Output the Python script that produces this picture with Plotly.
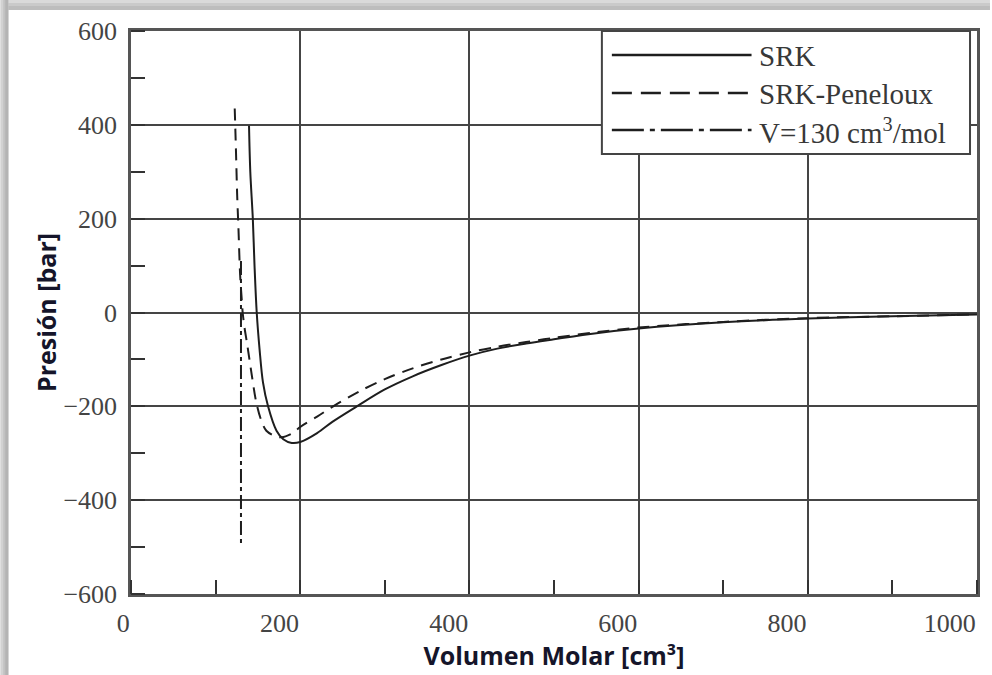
import plotly.graph_objects as go

# ---------------- data ----------------
series_names = ["SRK", "SRK-Peneloux", "V=130 cm<sup>3</sup>/mol"]

srk_v = [139.5, 141, 144, 146, 148.6, 152, 156, 162, 172, 180, 190, 200, 220, 238, 267,
         300, 333, 367, 400, 433, 467, 500, 550, 600, 700, 800, 900, 1000]
srk_p = [398, 300, 200, 100, 0, -79, -149, -200, -252, -270, -278, -276, -257, -233, -200,
         -164, -136, -112, -92, -77, -66, -57, -44, -34, -21, -13, -8, -4]

pen_v = [122.6, 124, 125.5, 127, 129, 131, 132, 134, 137, 140, 143, 148, 154, 160, 170, 178,
         190, 200, 220, 238, 270, 300, 333, 367, 400, 433, 467, 500, 550, 600, 700, 800, 900, 1000]
pen_p = [435, 350, 250, 180, 80, 25, 0, -30, -64, -100, -136, -191, -230, -252, -263, -266,
         -258, -244, -222, -201, -168, -142, -119, -100, -85, -73, -63, -54, -42, -32, -20, -12, -8, -4]

vline_v = [130, 130]
vline_p = [110, -500]

x_ticks = [0, 200, 400, 600, 800, 1000]
y_ticks = [-600, -400, -200, 0, 200, 400, 600]
y_ticktext = ["\u2212600", "\u2212400", "\u2212200", "0", "200", "400", "600"]

# ---------------- figure ----------------
W, H = 992, 675
ML, MR, MT, MB = 131, 13, 31, 81
PW, PH = W - ML - MR, H - MT - MB


def px_x(px):
    return (px - ML) / PW


def px_y(py):
    return (H - MB - py) / PH


line_col = "#1e1e1e"
fig = go.Figure()
fig.add_trace(go.Scatter(x=srk_v, y=srk_p, mode="lines", name=series_names[0],
                         line=dict(color=line_col, width=2, shape="spline", smoothing=0.9)))
fig.add_trace(go.Scatter(x=pen_v, y=pen_p, mode="lines", name=series_names[1],
                         line=dict(color=line_col, width=2, dash="12px,8px",
                                   shape="spline", smoothing=0.9)))
fig.add_trace(go.Scatter(x=vline_v, y=vline_p, mode="lines", name=series_names[2],
                         line=dict(color=line_col, width=2, dash="14px,4px,4px,4px")))

tick_font = dict(family="Liberation Serif, Times New Roman, serif", size=26, color="#444444")
title_font = dict(family="Open Sans, Lato, sans-serif", size=25, color="#15152a")
grid_col = "#454545"

fig.update_xaxes(range=[0, 1000], tickvals=x_ticks, ticks="", showgrid=True,
                 gridcolor=grid_col, gridwidth=1.5, zeroline=False,
                 showline=True, mirror=True, linecolor="#555555", linewidth=2.5,
                 tickfont=tick_font, ticklabelposition="outside left", ticklabelstandoff=4,
                 minor=dict(dtick=100, tick0=0, ticks="inside", ticklen=14,
                            tickcolor="#333333", tickwidth=2, showgrid=False),
                 title=dict(text="<b>Volumen Molar [cm³]</b>", font=title_font, standoff=0))
fig.update_yaxes(range=[-600, 600], tickvals=y_ticks, ticktext=y_ticktext, ticks="",
                 showgrid=True, gridcolor=grid_col, gridwidth=1.5, zeroline=False,
                 showline=True, mirror=True, linecolor="#555555", linewidth=2.5,
                 tickfont=tick_font, ticklabelstandoff=6,
                 minor=dict(dtick=100, tick0=0, ticks="inside", ticklen=14,
                            tickcolor="#333333", tickwidth=2, showgrid=False),
                 title=dict(text="<b>Presión [bar]</b>", font=title_font, standoff=0))

shapes = []
# shadow frame (top and left)
x_right = px_x(W)
y_bot = px_y(H)
for (a, b, col) in [(0, 10, "#dadada"), (3, 10, "#cacaca"), (6, 10, "#bdbdbd")]:
    shapes.append(dict(type="rect", xref="paper", yref="paper", x0=px_x(8),
                       x1=x_right, y0=px_y(b), y1=px_y(a), fillcolor=col, line_width=0,
                       layer="below"))
for (a, b, col) in [(0, 8, "#d2d2d2"), (3, 8, "#c2c2c2"), (5, 8, "#b4b4b4")]:
    shapes.append(dict(type="rect", xref="paper", yref="paper", x0=px_x(a), x1=px_x(b),
                       y0=y_bot, y1=px_y(0), fillcolor=col, line_width=0,
                       layer="below"))

# legend box
lx0, lx1, ly1, ly0 = px_x(603), px_x(972), px_y(31), px_y(154)
shapes.append(dict(type="rect", xref="paper", yref="paper", x0=lx0, x1=lx1, y0=ly0, y1=ly1,
                   fillcolor="white", line=dict(color="#444444", width=2), layer="above"))
rows = [55, 93, 130]
dashes = ["solid", "20px,9px", "32px,6px,5px,6px"]
annotations = []
for name, row, d in zip(series_names, rows, dashes):
    shapes.append(dict(type="line", xref="paper", yref="paper", x0=px_x(613), x1=px_x(753),
                       y0=px_y(row), y1=px_y(row), line=dict(color=line_col, width=2.5, dash=d),
                       layer="above"))
    annotations.append(dict(xref="paper", yref="paper", x=px_x(758), y=px_y(row + 1),
                            xanchor="left", yanchor="middle", text=name, showarrow=False,
                            font=dict(family="Liberation Serif, Times New Roman, serif",
                                      size=29, color="#383838")))

fig.update_layout(width=W, height=H, margin=dict(l=ML, r=MR, t=MT, b=MB),
                  paper_bgcolor="white", plot_bgcolor="white", showlegend=False,
                  shapes=shapes, annotations=annotations)

fig.write_html("out.html", config={"displayModeBar": False},
               post_script="document.body.style.margin='0px';")
